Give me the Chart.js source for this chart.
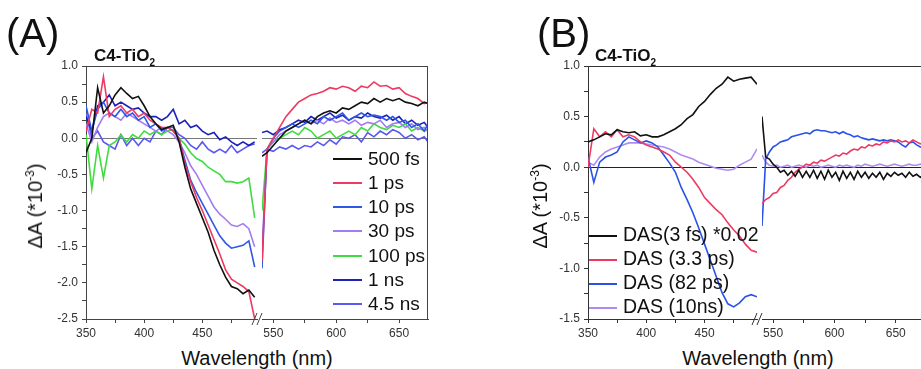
<!DOCTYPE html>
<html><head><meta charset="utf-8">
<script src="https://cdn.jsdelivr.net/npm/chart.js@4/dist/chart.umd.min.js"></script>
<style>
html,body{margin:0;padding:0;background:#fff;overflow:hidden;}
#stage{position:relative;width:921px;height:369px;overflow:hidden;font-family:"Liberation Sans",Arial,sans-serif;color:#111;}
canvas{position:absolute;top:0;}
.t{position:absolute;white-space:nowrap;line-height:1;}
.lg{position:absolute;height:2px;}
</style></head><body><div id="stage">
<canvas id="aL" width="260" height="345" style="left:0px"></canvas>
<canvas id="aR" width="180" height="345" style="left:250px"></canvas>
<canvas id="bL" width="290" height="345" style="left:470px"></canvas>
<canvas id="bR" width="180" height="345" style="left:750px"></canvas>
</div>
<script>
// ---------- wavelengths (nm) ----------
const wlLeft = [350,355,360,365,370,375,380,385,390,395,400,405,410,415,420,425,430,435,440,445,450,455,460,465,470,475,480,485,490,495];
const wlRightA = [541,545,550,555,560,565,570,575,580,585,590,595,600,605,610,615,620,625,630,635,640,645,650,655,660,665,670,673];
const wlRightB = [541,544,547,550,553,556,559,562,565,568,571,574,577,580,583,586,589,592,595,598,601,604,607,610,613,616,619,622,625,628,631,634,637,640,643,646,649,652,655,658,661,664,667,670,673];

// ---------- Panel A : transient spectra (ΔA *10^-3) ----------
const A_500fs_L = [-0.2,0.0,0.7,0.35,0.45,0.6,0.7,0.62,0.55,0.58,0.45,0.3,0.2,0.12,0.15,0.18,-0.05,-0.4,-0.7,-0.9,-1.1,-1.3,-1.55,-1.75,-1.92,-2.05,-2.08,-2.15,-2.1,-2.2];
const A_1ps_L   = [0.1,0.4,0.35,0.85,0.3,0.4,0.45,0.35,0.4,0.3,0.35,0.25,0.2,0.15,0.15,0.1,0.0,-0.35,-0.6,-0.82,-1.0,-1.2,-1.4,-1.6,-1.82,-1.95,-2.0,-2.05,-2.12,-2.5];
const A_10ps_L  = [0.45,0.1,0.4,0.5,0.35,0.3,0.4,0.3,0.35,0.25,0.3,0.15,0.2,0.1,0.15,0.1,0.0,-0.3,-0.58,-0.75,-0.9,-1.05,-1.2,-1.35,-1.45,-1.52,-1.5,-1.48,-1.42,-1.78];
const A_30ps_L  = [0.2,-0.05,0.15,0.3,0.35,0.3,0.25,0.35,0.3,0.25,0.2,0.15,0.1,0.15,0.1,0.05,-0.05,-0.2,-0.38,-0.5,-0.65,-0.8,-0.95,-1.05,-1.12,-1.2,-1.22,-1.18,-1.25,-1.5];
const A_100ps_L = [0.05,-0.7,-0.1,-0.55,-0.1,-0.05,0.05,-0.05,0.05,0.0,0.1,0.05,0.1,0.05,0.1,0.12,0.0,-0.08,-0.2,-0.28,-0.32,-0.4,-0.45,-0.5,-0.6,-0.6,-0.62,-0.6,-0.55,-1.1];
const A_1ns_L   = [0.3,0.1,0.45,0.5,0.6,0.45,0.5,0.45,0.4,0.42,0.35,0.3,0.3,0.25,0.3,0.4,0.2,0.25,0.15,0.18,0.1,0.05,0.08,-0.02,0.02,-0.05,-0.1,-0.05,-0.1,-0.05];
const A_4p5ns_L = [0.35,0.0,0.1,-0.05,-0.1,-0.15,0.05,-0.1,0.0,-0.1,0.0,-0.05,0.1,0.05,0.15,0.15,0.05,0.0,-0.1,-0.15,-0.05,-0.15,-0.2,-0.15,-0.2,-0.1,-0.2,-0.15,-0.1,-0.08];

const A_500fs_R = [-0.25,-0.2,-0.1,0.0,0.1,0.15,0.2,0.25,0.2,0.3,0.35,0.38,0.35,0.42,0.4,0.45,0.5,0.48,0.55,0.5,0.55,0.52,0.55,0.5,0.48,0.45,0.5,0.48];
const A_1ps_R   = [-1.7,-0.15,0.0,0.15,0.3,0.4,0.5,0.55,0.6,0.62,0.65,0.7,0.68,0.72,0.7,0.65,0.72,0.7,0.78,0.72,0.73,0.68,0.7,0.62,0.58,0.55,0.48,0.5];
const A_10ps_R  = [-1.8,-0.15,0.0,0.1,0.15,0.2,0.15,0.2,0.25,0.2,0.3,0.25,0.3,0.35,0.25,0.3,0.35,0.3,0.32,0.3,0.25,0.3,0.22,0.25,0.15,0.2,0.1,0.2];
const A_30ps_R  = [-1.55,-0.15,-0.05,0.05,0.1,0.15,0.2,0.25,0.2,0.25,0.2,0.28,0.22,0.25,0.2,0.25,0.18,0.22,0.2,0.25,0.15,0.2,0.22,0.15,0.2,0.12,0.15,0.1];
const A_100ps_R = [-1.0,-0.15,-0.05,0.0,0.05,0.1,0.05,0.15,0.1,0.0,0.05,0.1,0.0,0.05,0.1,0.05,0.15,0.1,0.2,0.15,0.12,0.18,0.15,0.2,0.1,0.15,0.1,0.12];
const A_1ns_R   = [0.08,0.1,0.05,0.12,0.15,0.2,0.25,0.22,0.3,0.25,0.3,0.35,0.28,0.32,0.25,0.3,0.28,0.35,0.3,0.28,0.32,0.25,0.3,0.2,0.25,0.18,0.22,0.15];
const A_4p5ns_R = [-0.2,-0.15,-0.18,-0.12,-0.15,-0.1,-0.15,-0.1,-0.12,-0.05,-0.1,-0.02,-0.08,0.02,0.0,0.05,-0.05,0.08,0.02,0.1,0.05,0.12,0.08,0.0,0.05,-0.02,0.02,-0.05];

// ---------- Panel B : decay-associated spectra ----------
const B_3fs_L   = [0.25,0.27,0.3,0.33,0.32,0.37,0.35,0.34,0.35,0.31,0.32,0.3,0.3,0.32,0.35,0.38,0.42,0.48,0.52,0.6,0.65,0.72,0.78,0.82,0.89,0.85,0.87,0.88,0.89,0.82];
const B_3p3ps_L = [0.0,0.38,0.3,0.35,0.3,0.37,0.3,0.32,0.3,0.25,0.22,0.2,0.18,0.15,0.12,0.05,0.0,-0.05,-0.12,-0.2,-0.3,-0.36,-0.42,-0.47,-0.55,-0.62,-0.68,-0.76,-0.82,-0.84];
const B_82ps_L  = [0.1,-0.15,0.05,0.1,0.12,0.15,0.25,0.3,0.27,0.24,0.26,0.24,0.2,0.12,0.04,-0.05,-0.2,-0.32,-0.45,-0.6,-0.76,-0.92,-1.08,-1.24,-1.35,-1.38,-1.34,-1.28,-1.26,-1.28];
const B_10ns_L  = [0.05,0.02,0.1,0.15,0.18,0.2,0.22,0.24,0.24,0.24,0.23,0.22,0.21,0.2,0.18,0.15,0.12,0.1,0.08,0.05,0.03,0.01,-0.01,-0.02,-0.03,-0.02,0.02,0.05,0.08,0.18];

const B_3fs_R   = [0.5,0.1,0.08,0.03,0.0,-0.05,-0.03,-0.08,-0.04,-0.09,-0.03,-0.1,-0.04,-0.1,-0.03,-0.11,-0.04,-0.12,-0.03,-0.1,-0.05,-0.13,-0.04,-0.11,-0.05,-0.12,-0.04,-0.1,-0.05,-0.11,-0.06,-0.1,-0.05,-0.12,-0.06,-0.09,-0.05,-0.08,-0.06,-0.1,-0.05,-0.09,-0.07,-0.1,-0.08];
const B_3p3ps_R = [-0.36,-0.32,-0.3,-0.26,-0.25,-0.2,-0.18,-0.13,-0.1,-0.05,-0.02,0.0,0.03,0.02,0.05,0.04,0.07,0.06,0.08,0.1,0.12,0.11,0.14,0.13,0.16,0.18,0.17,0.2,0.19,0.22,0.21,0.23,0.22,0.25,0.24,0.26,0.25,0.27,0.25,0.26,0.24,0.27,0.25,0.23,0.25];
const B_82ps_R  = [-0.58,0.08,0.15,0.2,0.22,0.25,0.26,0.27,0.3,0.31,0.32,0.33,0.34,0.33,0.36,0.37,0.36,0.36,0.35,0.34,0.35,0.33,0.35,0.33,0.32,0.3,0.31,0.29,0.28,0.27,0.28,0.27,0.26,0.27,0.26,0.27,0.26,0.25,0.22,0.2,0.24,0.25,0.22,0.2,0.19];
const B_10ns_R  = [0.12,0.05,0.02,0.01,0.02,0.0,0.01,0.02,0.0,0.01,0.02,0.01,0.0,0.02,0.01,0.02,0.0,0.01,0.02,0.01,0.0,0.02,0.01,0.02,0.01,0.0,0.02,0.01,0.03,0.02,0.01,0.02,0.03,0.02,0.01,0.02,0.03,0.02,0.01,0.02,0.03,0.02,0.02,0.03,0.02];

// ---------- legend labels / colours ----------
const labelsA = ['500 fs','1 ps','10 ps','30 ps','100 ps','1 ns','4.5 ns'];
const colorsA = ['#111111','#ee3a62','#2e58e6','#a47cf2','#3fdc3f','#1a22b8','#5a58f2'];
const labelsB = ['DAS(3 fs) *0.02','DAS (3.3 ps)','DAS (82 ps)','DAS (10ns)'];
const colorsB = ['#111111','#ee3a62','#2a52e8','#b08cf2'];

const FONT = '"Liberation Sans", Arial, sans-serif';

const framePlugin = {
  id:'frame',
  afterDraw(chart, args, o){
    const {ctx, chartArea:a} = chart;
    ctx.save();
    ctx.strokeStyle = o.color || '#333'; ctx.lineWidth = 1;
    ctx.beginPath();
    if (o.top){
      const x0 = o.topFromCanvas ? 0 : a.left;
      const x1 = o.topToCanvas ? chart.width : a.right;
      ctx.moveTo(x0, Math.round(a.top)+0.5); ctx.lineTo(x1, Math.round(a.top)+0.5);
    }
    if (o.right){
      ctx.moveTo(Math.round(a.right)-0.5, a.top); ctx.lineTo(Math.round(a.right)-0.5, a.bottom);
    }
    ctx.stroke();
    if (o.brk){
      const x = a.left, y = a.bottom;
      ctx.beginPath();
      ctx.moveTo(x-10, y+6); ctx.lineTo(x-5, y-6);
      ctx.moveTo(x-5, y+6); ctx.lineTo(x, y-6);
      ctx.stroke();
    }
    ctx.restore();
  }
};

function makeChart(id, cfg){
  const datasets = cfg.series.map((v,i)=>({
    label: cfg.labels[i],
    data: cfg.wl.map((w,k)=>({x:w, y:v[k]})),
    borderColor: cfg.colors[i], borderWidth: 1.6, pointRadius: 0, tension: 0, fill: false
  }));
  return new Chart(document.getElementById(id), {
    type:'line',
    data:{datasets},
    options:{
      responsive:false, animation:false, devicePixelRatio:1,
      layout:{padding:cfg.pad},
      plugins:{legend:{display:false}, tooltip:{enabled:false}, frame:cfg.frame},
      scales:{
        x:{type:'linear', position:'bottom', min:cfg.xmin, max:cfg.xmax,
           afterFit(s){ s.height = cfg.xh; },
           ticks:{stepSize:25, includeBounds:false, autoSkip:false, maxRotation:0, minRotation:0, padding:3,
                  color:'#333', font:{family:FONT, size:12},
                  callback:v => (v % 50 === 0) ? String(v) : ''},
           grid:{drawOnChartArea:false, drawTicks:true, tickLength:4, color:cfg.axisColor, lineWidth:1},
           border:{display:true, color:cfg.axisColor, width:1}},
        y:{type:'linear', min:cfg.ymin, max:cfg.ymax,
           afterFit(s){ s.width = cfg.yw; },
           ticks:{display:cfg.showY, stepSize:0.25, includeBounds:false, autoSkip:false, padding:4,
                  color:'#333', font:{family:FONT, size:12},
                  callback:v => (Math.abs(v*2 - Math.round(v*2)) < 1e-6) ? v.toFixed(1) : ''},
           grid:{drawOnChartArea:true, drawTicks:cfg.showY, tickLength:4, tickColor:cfg.axisColor,
                 color: c => (c.tick && Math.abs(c.tick.value) < 1e-9) ? cfg.zeroColor : 'rgba(0,0,0,0)',
                 lineWidth:1},
           border:{display:cfg.showY, color:cfg.axisColor, width:1}}
      }
    },
    plugins:[framePlugin]
  });
}

// Panel A
makeChart('aL', {wl:wlLeft, series:[A_500fs_L,A_1ps_L,A_10ps_L,A_30ps_L,A_100ps_L,A_1ns_L,A_4p5ns_L],
  labels:labelsA, colors:colorsA, xmin:350, xmax:497, ymin:-2.5, ymax:1.0,
  pad:{left:0, right:3, top:66, bottom:0}, xh:26, yw:86, showY:true,
  axisColor:'#444', zeroColor:'#777', frame:{top:true, topToCanvas:true, color:'#444'}});
makeChart('aR', {wl:wlRightA, series:[A_500fs_R,A_1ps_R,A_10ps_R,A_30ps_R,A_100ps_R,A_1ns_R,A_4p5ns_R],
  labels:labelsA, colors:colorsA, xmin:541, xmax:673, ymin:-2.5, ymax:1.0,
  pad:{left:12, right:2, top:66, bottom:0}, xh:26, yw:0, showY:false,
  axisColor:'#444', zeroColor:'#777', frame:{top:true, topFromCanvas:true, right:true, brk:true, color:'#444'}});

// Panel B
makeChart('bL', {wl:wlLeft, series:[B_3fs_L,B_3p3ps_L,B_82ps_L,B_10ns_L],
  labels:labelsB, colors:colorsB, xmin:350, xmax:495, ymin:-1.5, ymax:1.0,
  pad:{left:0, right:3, top:66, bottom:0}, xh:26, yw:118, showY:true,
  axisColor:'#333', zeroColor:'#222', frame:{top:true, topToCanvas:true, color:'#333'}});
makeChart('bR', {wl:wlRightB, series:[B_3fs_R,B_3p3ps_R,B_82ps_R,B_10ns_R],
  labels:labelsB, colors:colorsB, xmin:541, xmax:673, ymin:-1.5, ymax:1.0,
  pad:{left:12, right:6, top:66, bottom:0}, xh:26, yw:0, showY:false,
  axisColor:'#333', zeroColor:'#222', frame:{top:true, topFromCanvas:true, right:true, brk:true, color:'#333'}});

// ---------- text overlays ----------
const stage = document.getElementById('stage');
function addText(html, css){
  const d = document.createElement('div'); d.className='t'; d.innerHTML = html;
  Object.assign(d.style, css); stage.appendChild(d); return d;
}
// panel letters
addText('(A)', {left:'6px', top:'13px', fontSize:'40px'});
addText('(B)', {left:'537px', top:'13px', fontSize:'40px'});
// sample labels
const sub = '<span style="font-size:10px;position:relative;top:5px">2</span>';
addText('C4-TiO'+sub, {left:'94px', top:'47px', fontSize:'17px', fontWeight:'bold'});
addText('C4-TiO'+sub, {left:'595px', top:'47px', fontSize:'17px', fontWeight:'bold'});
// x titles
addText('Wavelength (nm)', {left:'257px', top:'358px', fontSize:'20px', transform:'translate(-50%,-50%)'});
addText('Wavelength (nm)', {left:'758px', top:'358px', fontSize:'20px', transform:'translate(-50%,-50%)'});
// y titles
const ytitle = '&Delta;A (*10<span style="font-size:12px;position:relative;top:-8px">-3</span>)';
addText(ytitle, {left:'35px', top:'206px', fontSize:'20px', transform:'translate(-50%,-50%) rotate(-90deg)'});
addText(ytitle, {left:'540px', top:'206px', fontSize:'20px', transform:'translate(-50%,-50%) rotate(-90deg)'});

// legends
function legend(labels, colors, x0, x1, tx, y0, dy, fs){
  labels.forEach((lab,i)=>{
    const cy = y0 + i*dy;
    const l = document.createElement('div'); l.className='lg';
    Object.assign(l.style, {left:x0+'px', width:(x1-x0)+'px', top:(cy)+'px', background:colors[i]});
    stage.appendChild(l);
    addText(lab, {left:tx+'px', top:cy+'px', fontSize:fs+'px', transform:'translateY(-50%)'});
  });
}
legend(labelsA, colorsA, 333, 362, 368, 157.5, 24.3, 19);
legend(labelsB, colorsB, 589, 617, 623, 234.5, 24, 19.5);
</script></body></html>
